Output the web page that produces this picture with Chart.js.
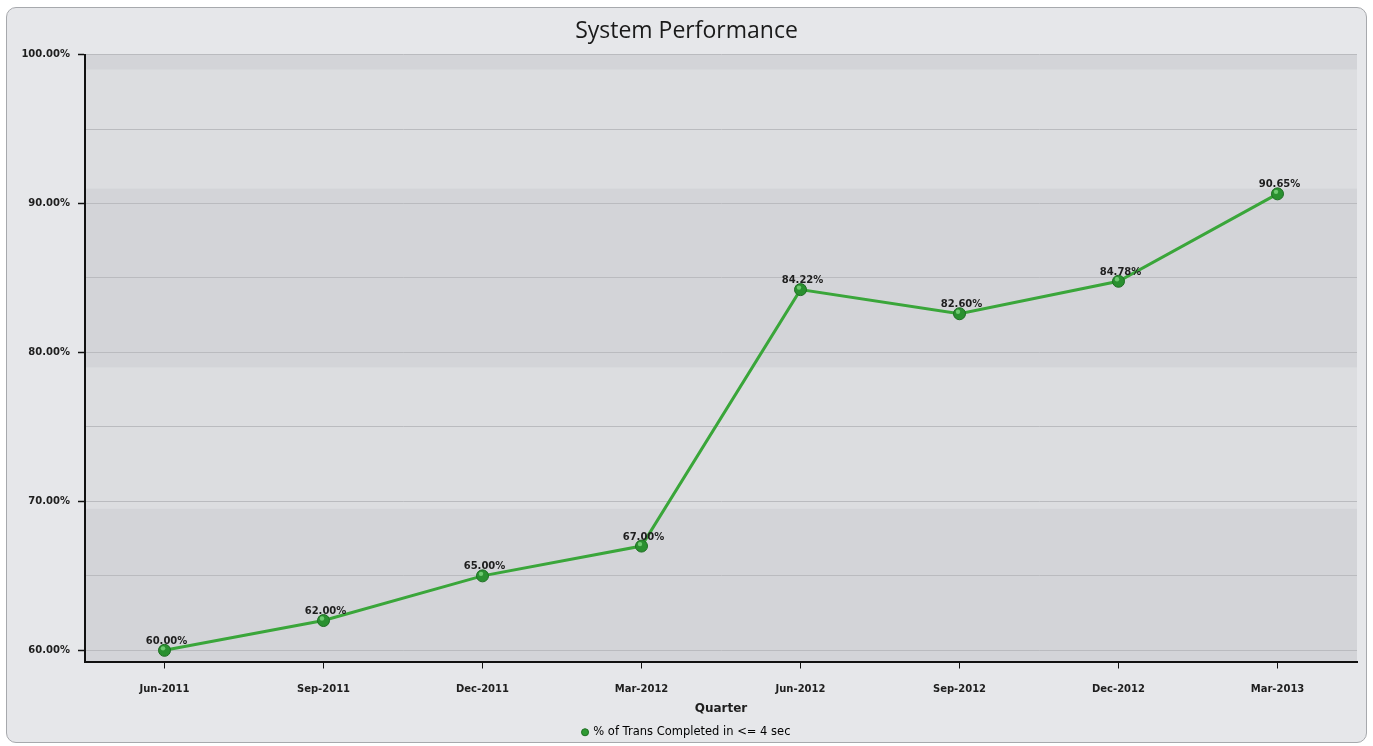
<!DOCTYPE html>
<html>
<head>
<meta charset="utf-8">
<script src="https://cdn.jsdelivr.net/npm/chart.js@4"></script>
<style>
  html, body { margin: 0; padding: 0; background: #ffffff; }
  #panel {
    position: absolute; left: 6px; top: 7px;
    width: 1359px; height: 734px;
    border: 1px solid #a7a9ad; border-radius: 10px;
    background: #e6e7ea;
    overflow: hidden;
  }
  #chart { display: block; }
</style>
</head>
<body>
<div id="panel"><canvas id="chart" width="1359" height="734"></canvas></div>
<script>
"use strict";
{
  const quarters = ["Jun-2011", "Sep-2011", "Dec-2011", "Mar-2012", "Jun-2012", "Sep-2012", "Dec-2012", "Mar-2013"];
  const pctCompleted = [60.00, 62.00, 65.00, 67.00, 84.22, 82.60, 84.78, 90.65];
  const yTicks = [60, 65, 70, 75, 80, 85, 90, 95, 100];
  const seriesName = "% of Trans Completed in <= 4 sec";

  // shaded strips behind the plot (value ranges)
  const bands = [[99, 100], [79, 91], [59.25, 69.5]];

  const tickFont = { family: "DejaVu Sans", size: 10, weight: "bold" };

  // plot background + bands
  const plotBg = {
    id: "plotBg",
    beforeDraw(chart) {
      const { ctx, chartArea: a, scales: { y } } = chart;
      ctx.save();
      ctx.fillStyle = "#dcdde0";
      ctx.fillRect(a.left, a.top, a.right - a.left, a.bottom - a.top);
      ctx.fillStyle = "#d3d4d8";
      bands.forEach(([lo, hi]) => {
        const top = y.getPixelForValue(hi);
        const bot = y.getPixelForValue(lo);
        ctx.fillRect(a.left, top, a.right - a.left, bot - top);
      });
      ctx.restore();
    }
  };

  // shiny spot on each marker + value labels
  const valueLabels = {
    id: "valueLabels",
    afterDatasetsDraw(chart) {
      const { ctx } = chart;
      const meta = chart.getDatasetMeta(0);
      ctx.save();
      meta.data.forEach((pt) => {
        ctx.beginPath();
        ctx.fillStyle = "rgba(140,225,140,0.7)";
        ctx.arc(pt.x - 1.5, pt.y - 2, 2.2, 0, Math.PI * 2);
        ctx.fill();
      });
      ctx.font = "bold 10px 'DejaVu Sans'";
      ctx.fillStyle = "#1e1e1e";
      ctx.textAlign = "center";
      ctx.textBaseline = "middle";
      meta.data.forEach((pt, i) => {
        ctx.fillText(pctCompleted[i].toFixed(2) + "%", pt.x + 2, pt.y - 9);
      });
      ctx.restore();
    }
  };

  const canvas = document.getElementById("chart");
  const lineChart = new Chart(canvas, {
    type: "line",
    data: {
      labels: quarters,
      datasets: [
        {
          label: seriesName,
          data: pctCompleted,
          borderColor: "#3aa63a",
          borderWidth: 3,
          backgroundColor: "#2f9a33",
          pointBackgroundColor: "#2a9030",
          pointBorderColor: "#1d6e22",
          pointBorderWidth: 1,
          pointRadius: 6,
          pointHoverRadius: 6,
          tension: 0,
        },
      ],
    },
    options: {
      responsive: false,
      animation: false,
      layout: { padding: { top: 10, right: 9, bottom: -6, left: 9 } },
      plugins: {
        title: {
          display: true,
          text: "System Performance",
          color: "#1a1a1a",
          font: { family: "Open Sans", size: 23, weight: "normal" },
          padding: { top: 0, bottom: 9 },
        },
        legend: {
          position: "bottom",
          labels: {
            usePointStyle: true,
            pointStyle: "circle",
            boxWidth: 5,
            boxHeight: 5,
            padding: 3,
            color: "#222222",
            font: { family: "DejaVu Sans", size: 11.5 },
            generateLabels: () => [{
              text: seriesName,
              fillStyle: "#2f9a33",
              strokeStyle: "#1d6e22",
              lineWidth: 1,
              pointStyle: "circle",
              datasetIndex: 0,
            }],
          },
        },
        tooltip: { enabled: false },
      },
      scales: {
        x: {
          offset: true,
          afterFit: (scale) => { scale.height = 62; },
          border: { display: true, color: "#111111", width: 2 },
          grid: {
            offset: false,
            drawOnChartArea: false,
            drawTicks: true,
            tickLength: 7,
            tickColor: "#111111",
            tickWidth: 1,
          },
          ticks: { color: "#1e1e1e", font: tickFont, padding: 15, maxRotation: 0 },
          title: {
            display: true,
            text: "Quarter",
            color: "#1e1e1e",
            font: { family: "DejaVu Sans", size: 12, weight: "bold" },
            padding: { top: 0, bottom: 7 },
          },
        },
        y: {
          min: 59.25,
          max: 100,
          afterFit: (scale) => { scale.width = 69; },
          afterBuildTicks: (scale) => { scale.ticks = yTicks.map((v) => ({ value: v })); },
          border: { display: true, color: "#111111", width: 2 },
          grid: {
            color: "#babbbf",
            lineWidth: 1,
            drawTicks: true,
            tickLength: 7,
            tickColor: (c) => (c.tick && c.tick.value % 10 === 0 ? "#111111" : "rgba(0,0,0,0)"),
            tickWidth: 1.5,
          },
          ticks: {
            color: "#1e1e1e",
            font: tickFont,
            padding: 8,
            callback: (v) => (v % 10 === 0 ? v.toFixed(2) + "%" : ""),
          },
        },
      },
    },
    plugins: [plotBg, valueLabels],
  });
}
</script>
</body>
</html>
